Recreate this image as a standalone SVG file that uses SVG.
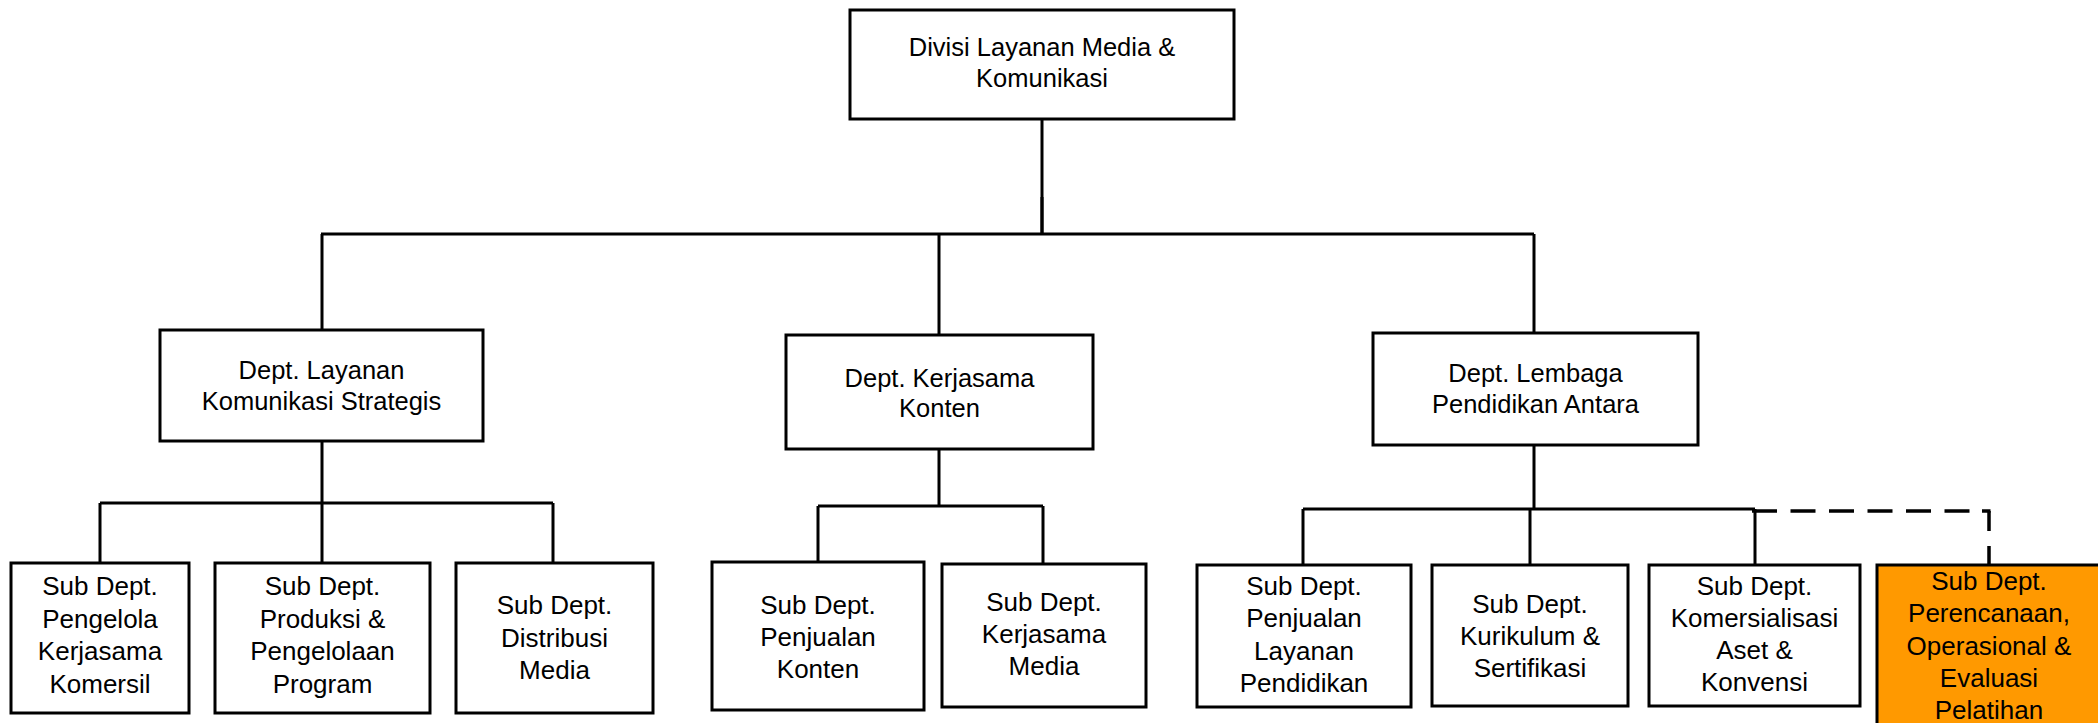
<svg xmlns="http://www.w3.org/2000/svg" width="2098" height="723" viewBox="0 0 2098 723">
<style>
.box{fill:#fff;stroke:#000;stroke-width:3}
.hl{fill:#FF9900;stroke:#000;stroke-width:3}
.ln{fill:none;stroke:#000;stroke-width:3}
.dash{fill:none;stroke:#000;stroke-width:3.5}
text{font-family:"Liberation Sans",Arial,sans-serif;fill:#000;text-anchor:middle}
.t1{font-size:25.5px}
.t2{font-size:26px}
</style>
<rect width="2098" height="723" fill="#fff"/>
<g id="connectors">
<path class="ln" d="M1042,119 V234"/>
<path class="ln" d="M1042,197 V234" stroke-width="4.5"/>
<path class="ln" d="M321,234 H1534"/>
<path class="ln" d="M322,234 V330 M939,234 V335 M1534,234 V333"/>
<path class="ln" d="M322,441 V503 M100,503 H553 M100,503 V563 M322,503 V563 M553,503 V563"/>
<path class="ln" d="M939,449 V506 M818,506 H1043 M818,506 V562 M1043,506 V564"/>
<path class="ln" d="M1534,445 V509 M1303,509 H1755 M1303,509 V565 M1530,509 V565 M1755,509 V565"/>
<path class="dash" d="M1752,511 H1972" stroke-dasharray="25 13.5"/>
<path class="dash" d="M1989,511 V565" stroke-dasharray="20 15"/>
<path class="dash" d="M1982,511 H1990.5"/>
</g>
<g id="n0">
<rect class="box" x="850" y="10" width="384" height="109"/>
<text class="t1" x="1042" y="56">Divisi Layanan Media &amp;</text>
<text class="t1" x="1042" y="87">Komunikasi</text>
</g>
<g id="d1">
<rect class="box" x="160" y="330" width="323" height="111"/>
<text class="t1" x="321.5" y="379">Dept. Layanan</text>
<text class="t1" x="321.5" y="410">Komunikasi Strategis</text>
</g>
<g id="d2">
<rect class="box" x="786" y="335" width="307" height="114"/>
<text class="t1" x="939.5" y="387">Dept. Kerjasama</text>
<text class="t1" x="939.5" y="417">Konten</text>
</g>
<g id="d3">
<rect class="box" x="1373" y="333" width="325" height="112"/>
<text class="t1" x="1535.5" y="382">Dept. Lembaga</text>
<text class="t1" x="1535.5" y="413">Pendidikan Antara</text>
</g>
<g id="s1">
<rect class="box" x="11" y="563" width="178" height="150"/>
<text class="t2" x="100" y="595">Sub Dept.</text>
<text class="t2" x="100" y="627.5">Pengelola</text>
<text class="t2" x="100" y="660">Kerjasama</text>
<text class="t2" x="100" y="692.5">Komersil</text>
</g>
<g id="s2">
<rect class="box" x="215" y="563" width="215" height="150"/>
<text class="t2" x="322.5" y="595">Sub Dept.</text>
<text class="t2" x="322.5" y="627.5">Produksi &amp;</text>
<text class="t2" x="322.5" y="660">Pengelolaan</text>
<text class="t2" x="322.5" y="692.5">Program</text>
</g>
<g id="s3">
<rect class="box" x="456" y="563" width="197" height="150"/>
<text class="t2" x="554.5" y="614">Sub Dept.</text>
<text class="t2" x="554.5" y="646.5">Distribusi</text>
<text class="t2" x="554.5" y="679">Media</text>
</g>
<g id="s4">
<rect class="box" x="712" y="562" width="212" height="148"/>
<text class="t2" x="818" y="614">Sub Dept.</text>
<text class="t2" x="818" y="646">Penjualan</text>
<text class="t2" x="818" y="678">Konten</text>
</g>
<g id="s5">
<rect class="box" x="942" y="564" width="204" height="143"/>
<text class="t2" x="1044" y="611">Sub Dept.</text>
<text class="t2" x="1044" y="643">Kerjasama</text>
<text class="t2" x="1044" y="675">Media</text>
</g>
<g id="s6">
<rect class="box" x="1197" y="565" width="214" height="142"/>
<text class="t2" x="1304" y="595">Sub Dept.</text>
<text class="t2" x="1304" y="627">Penjualan</text>
<text class="t2" x="1304" y="659.5">Layanan</text>
<text class="t2" x="1304" y="692">Pendidikan</text>
</g>
<g id="s7">
<rect class="box" x="1432" y="565" width="196" height="141"/>
<text class="t2" x="1530" y="613">Sub Dept.</text>
<text class="t2" x="1530" y="645">Kurikulum &amp;</text>
<text class="t2" x="1530" y="677">Sertifikasi</text>
</g>
<g id="s8">
<rect class="box" x="1649" y="565" width="211" height="141"/>
<text class="t2" x="1754.5" y="595">Sub Dept.</text>
<text class="t2" x="1754.5" y="627">Komersialisasi</text>
<text class="t2" x="1754.5" y="659">Aset &amp;</text>
<text class="t2" x="1754.5" y="691">Konvensi</text>
</g>
<g id="s9">
<rect class="hl" x="1877" y="565" width="226" height="200"/>
<text class="t2" x="1989" y="590">Sub Dept.</text>
<text class="t2" x="1989" y="622">Perencanaan,</text>
<text class="t2" x="1989" y="654.5">Operasional &amp;</text>
<text class="t2" x="1989" y="686.5">Evaluasi</text>
<text class="t2" x="1989" y="718.5">Pelatihan</text>
</g>
</svg>
